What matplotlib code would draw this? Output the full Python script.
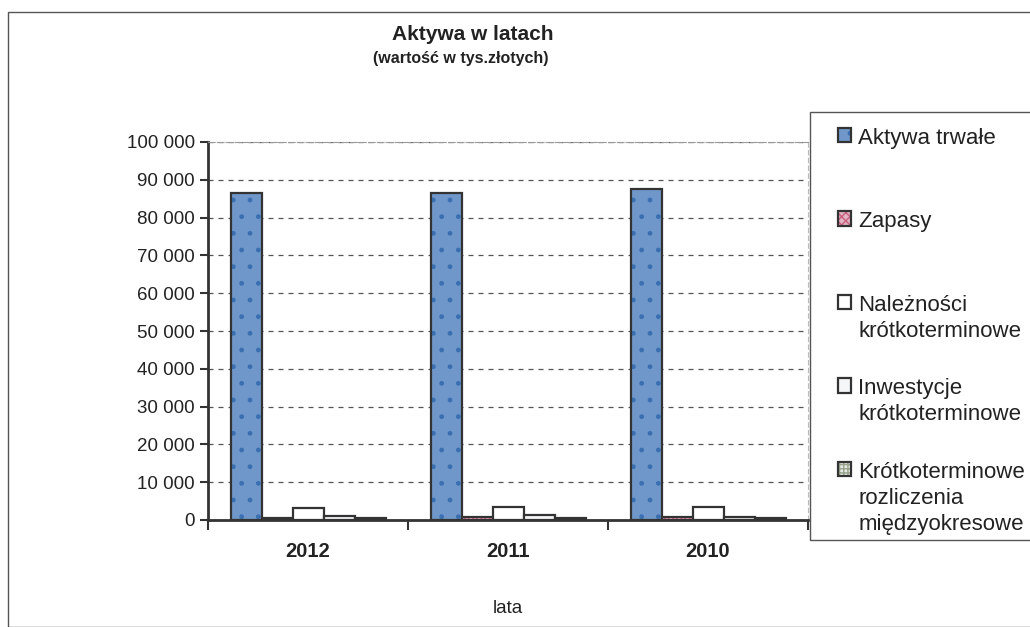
import matplotlib.pyplot as plt
import numpy as np
from matplotlib.colors import to_rgba
from matplotlib.ticker import FuncFormatter
from matplotlib.patches import Rectangle

years = ["2012", "2011", "2010"]
series = ["Aktywa trwałe", "Zapasy", "Należności\nkrótkoterminowe",
          "Inwestycje\nkrótkoterminowe",
          "Krótkoterminowe\nrozliczenia\nmiędzyokresowe"]
aktywa = [86500, 86500, 87500]
zapasy = [600, 700, 700]
naleznosci = [3200, 3400, 3400]
inwestycje = [1000, 1200, 900]
rozliczenia = [500, 400, 500]

values = [aktywa, zapasy, naleznosci, inwestycje, rozliczenia]
faces = ["#7097c9", "#e3b3c4", "#ffffff", "#f4f6f8", "#e6e8e4"]
hatches = [".", "xxxx", "", "", "++++"]
hatch_cols = ["#3a6fb2", "#c8607f", "#dddddd", "#dddddd", "#99a38c"]

plt.rcParams['font.family'] = ['Liberation Sans', 'DejaVu Sans']

fig = plt.figure(figsize=(10.30, 6.27), dpi=100)
ax = fig.add_axes([208 / 1030, 1 - 520 / 627, 600 / 1030, 378 / 627])

x = np.arange(len(years))
w = 0.155
for i, (vals, fc, h) in enumerate(zip(values, faces, hatches)):
    pos = x - 2 * w + i * w
    bars = ax.bar(pos, vals, width=w, facecolor=fc, edgecolor="#333333",
                  linewidth=1.6, hatch=h, label=series[i], zorder=3)
    for b in bars:
        b._hatch_color = to_rgba(hatch_cols[i])

ax.set_xlim(-0.5, 2.5)
ax.set_ylim(0, 100000)
ax.set_yticks(np.arange(0, 100001, 10000))
ax.yaxis.set_major_formatter(FuncFormatter(lambda v, p: "{:,}".format(int(v)).replace(",", " ")))
ax.set_xticks(x)
ax.set_xticklabels(years, fontsize=14.5, fontweight="bold", color="#222222")
ax.set_xticks([-0.5, 0.5, 1.5, 2.5], minor=True)
ax.tick_params(axis="x", which="major", length=0, pad=16)
ax.tick_params(axis="x", which="minor", length=7, width=1.5, color="#333333")
ax.tick_params(axis="y", labelsize=13.5, length=6, width=1.5, color="#333333",
               labelcolor="#222222")
ax.yaxis.grid(True, linestyle=(0, (4, 4)), color="#555555", linewidth=0.9, zorder=0)

for s in ["left", "bottom"]:
    ax.spines[s].set_linewidth(2)
    ax.spines[s].set_color("#333333")
ax.spines["top"].set_color("#999999")
ax.spines["top"].set_linestyle((0, (6, 2)))
ax.spines["right"].set_color("#bbbbbb")
ax.spines["right"].set_linestyle((0, (4, 3)))

ax.set_xlabel("lata", fontsize=13.5, labelpad=28, color="#222222")

fig.text(473 / 1030, 1 - 34 / 627, "Aktywa w latach", fontsize=15,
         fontweight="bold", ha="center", va="center", color="#222222")
fig.text(461 / 1030, 1 - 59 / 627, "(wartość w tys.złotych)", fontsize=11.5,
         fontweight="bold", ha="center", va="center", color="#222222")

# Excel spaces legend entries evenly: pad every label to three lines
handles, labels = ax.get_legend_handles_labels()
labels = [lab + "\n" * (2 - lab.count("\n")) for lab in labels]
leg = fig.legend(handles, labels, loc="upper left",
                 bbox_to_anchor=(838 / 1030, 1 - 128 / 627),
                 fontsize=16, frameon=False, labelspacing=0.49,
                 handlelength=0.6, handleheight=0.6, handletextpad=0.32,
                 borderpad=0, borderaxespad=0)
for t in leg.get_texts():
    t.set_color("#222222")
    t.set_linespacing(1.3)
# handles sit at the first line of each label
for col in leg._legend_handle_box.get_children():
    for row in col.get_children():
        row.align = "top"

# legend frame
fig.patches.append(Rectangle((810 / 1030, 1 - 540 / 627), 0.3, 428 / 627,
                             transform=fig.transFigure, fill=False,
                             edgecolor="#555555", linewidth=1))
# outer chart border
fig.patches.append(Rectangle((8 / 1030, 0), 1.1, 1 - 12 / 627, transform=fig.transFigure,
                             fill=False, edgecolor="#555555", linewidth=1))

fig.savefig("out.png", dpi=100)
